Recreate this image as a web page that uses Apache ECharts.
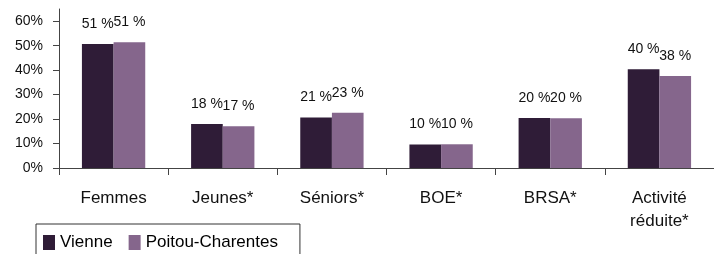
<!DOCTYPE html>
<html>
<head>
<meta charset="utf-8">
<script src="https://cdn.jsdelivr.net/npm/echarts@6/dist/echarts.min.js"></script>
<style>
  html, body { margin: 0; padding: 0; background: #fff; }
  #chart { width: 714px; height: 254px; }
</style>
</head>
<body>
<div id="chart"></div>
<script>
// données (%)
const categories = ['Femmes', 'Jeunes*', 'Séniors*', 'BOE*', 'BRSA*', 'Activité\nréduite*'];
const vienne = [50.7, 18.0, 20.6, 9.6, 20.4, 40.4];
const poitou = [51.4, 17.1, 22.6, 9.7, 20.3, 37.6];
const yTicks = [0, 10, 20, 30, 40, 50, 60];

const font = 'Liberation Sans, Arial, sans-serif';

const myChart = echarts.init(document.getElementById('chart'));

function barLabel() {
    return {
        show: true,
        position: 'top',
        distance: 13,
        color: '#111',
        fontSize: 14,
        fontFamily: font,
        formatter: p => Math.round(p.value) + ' %'
    };
}

const option = {
    animation: false,
    color: ['#2f1c37', '#85668c'],
    grid: {
        left: 59,
        top: 9,
        width: 662,
        height: 159
    },
    legend: {
        left: 36,
        top: 224,
        orient: 'horizontal',
        icon: 'rect',
        itemWidth: 12,
        itemHeight: 15,
        itemGap: 16,
        padding: [10, 22, 20, 7],
        borderColor: '#333',
        borderWidth: 1,
        textStyle: { color: '#000', fontSize: 17, fontFamily: font },
        data: ['Vienne', 'Poitou-Charentes']
    },
    xAxis: {
        type: 'category',
        data: categories,
        axisLine: { lineStyle: { color: '#444', width: 1 } },
        axisTick: { show: true, length: 7, lineStyle: { color: '#444' } },
        axisLabel: {
            color: '#111',
            fontSize: 17,
            fontFamily: font,
            lineHeight: 23,
            margin: 19,
            interval: 0
        }
    },
    yAxis: {
        type: 'value',
        min: 0,
        max: 65,
        interval: 10,
        splitLine: { show: false },
        axisLine: { show: true, lineStyle: { color: '#444', width: 1 } },
        axisTick: { show: true, length: 6, customValues: yTicks, lineStyle: { color: '#444' } },
        axisLabel: {
            customValues: yTicks,
            color: '#111',
            fontSize: 14,
            fontFamily: font,
            margin: 16,
            formatter: v => v + '%'
        }
    },
    series: [
        {
            name: 'Vienne',
            type: 'bar',
            data: vienne,
            barGap: '0%',
            barCategoryGap: '42%',
            label: barLabel()
        },
        {
            name: 'Poitou-Charentes',
            type: 'bar',
            data: poitou,
            label: barLabel()
        }
    ]
};

myChart.setOption(option);
</script>
</body>
</html>
